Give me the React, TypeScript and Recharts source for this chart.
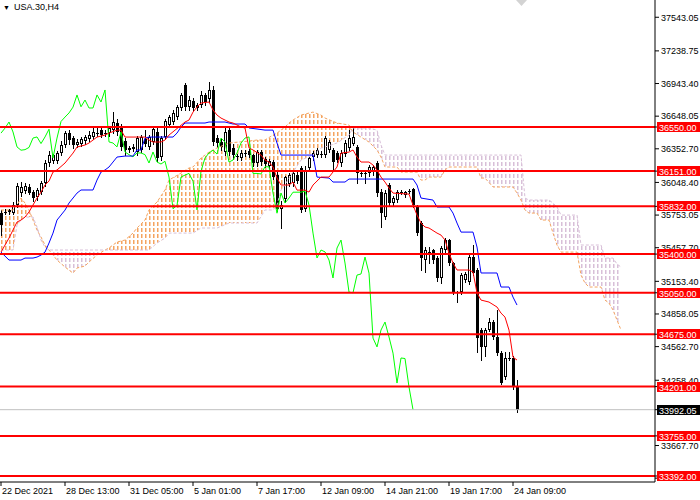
import React from "react";
import {
  Area,
  Bar,
  ComposedChart,
  Line,
  ReferenceDot,
  ReferenceLine,
  XAxis,
  YAxis,
} from "recharts";

const FONT = '"Liberation Sans", Arial, sans-serif';

// H4 candles, one entry per bar (bar 0 = 22 Dec 2021)
const opens = [
  35772, 35781, 35781, 35772, 35844, 35953, 35970, 36007, 35960, 35915,
  35960, 36043, 36224, 36240, 36240, 36315, 36387, 36495, 36450, 36390,
  36400, 36425, 36440, 36460, 36490, 36523, 36490, 36495, 36523, 36585,
  36540, 36420, 36360, 36350, 36324, 36342, 36440, 36370, 36415, 36505,
  36280, 36460, 36568, 36595, 36640, 36722, 36930, 36733, 36785, 36750,
  36749, 36840, 36803, 36885, 36450, 36415, 36324, 36523, 36360, 36290,
  36270, 36310, 36330, 36296, 36224, 36324, 36260, 36200, 36233, 36115,
  35810, 35900, 36034, 36040, 36120, 36180, 35810, 36180, 36280, 36300,
  36300, 36300, 36340, 36342, 36315, 36224, 36305, 36360, 36400, 36370,
  36135, 36130, 36130, 36140, 36224, 35960, 35735, 36025, 35862, 35889,
  35955, 35935, 35965, 35989, 35826, 35680, 35346, 35410, 35437, 35365,
  35184, 35437, 35527, 35319, 35056, 35056, 35170, 35147, 35373, 35256,
  34713, 34560, 34713, 34785, 34650, 34504, 34288, 34460, 34460, 34197,
];
const highs = [
  35799, 35810, 35810, 35870, 36043, 36050, 36040, 36030, 35980, 36000,
  36060, 36250, 36330, 36310, 36330, 36420, 36510, 36520, 36470, 36440,
  36460, 36480, 36510, 36540, 36560, 36540, 36520, 36560, 36685, 36620,
  36580, 36450, 36380, 36400, 36470, 36480, 36520, 36480, 36560, 36540,
  36470, 36620, 36660, 36700, 36750, 36857, 36948, 36830, 36810, 36770,
  36880, 36860, 36957, 36920, 36480, 36440, 36540, 36560, 36400, 36310,
  36340, 36340, 36350, 36310, 36340, 36340, 36280, 36260, 36250, 36140,
  35880, 36110, 36130, 36150, 36140, 36200, 36200, 36290, 36330, 36360,
  36330, 36470, 36430, 36360, 36330, 36340, 36432, 36523, 36541, 36390,
  36150, 36145, 36210, 36210, 36240, 35990, 35980, 36040, 35930, 35980,
  35980, 35975, 35990, 36000, 35844, 35700, 35460, 35460, 35450, 35380,
  35470, 35546, 35540, 35330, 35070, 35230, 35240, 35390, 35482, 35270,
  34730, 34730, 34820, 34800, 34894, 34520, 34515, 34515, 34480, 34261,
];
const lows = [
  35573, 35760, 35760, 35760, 35826, 35930, 35950, 35940, 35880, 35890,
  35940, 36020, 36200, 36220, 36220, 36300, 36370, 36400, 36360, 36370,
  36380, 36400, 36420, 36440, 36470, 36460, 36470, 36470, 36500, 36480,
  36340, 36300, 36320, 36330, 36300, 36320, 36380, 36350, 36400, 36240,
  36250, 36440, 36550, 36580, 36620, 36700, 36700, 36700, 36700, 36700,
  36730, 36750, 36780, 36390, 36370, 36340, 36300, 36300, 36260, 36250,
  36250, 36290, 36280, 36200, 36200, 36210, 36190, 36180, 36080, 35790,
  35638, 35870, 36020, 36020, 36040, 35780, 35790, 36160, 36250, 36280,
  36280, 36280, 36320, 36160, 36230, 36200, 36290, 36340, 36390, 36043,
  36110, 36043, 36110, 36120, 35930, 35645, 35720, 35840, 35840, 35870,
  35940, 35920, 35950, 35830, 35570, 35256, 35240, 35320, 35320, 35160,
  35138, 35420, 35300, 35040, 34966, 35040, 35150, 35130, 35210, 34513,
  34442, 34480, 34700, 34630, 34490, 34220, 34270, 34440, 34180, 33970,
];
const closes = [
  35663, 35781, 35799, 35844, 36016, 36007, 36016, 35953, 35905, 35980,
  36043, 36224, 36296, 36296, 36315, 36387, 36495, 36432, 36387, 36415,
  36440, 36460, 36480, 36505, 36500, 36478, 36495, 36540, 36595, 36505,
  36370, 36340, 36345, 36365, 36450, 36460, 36400, 36460, 36530, 36270,
  36450, 36600, 36640, 36677, 36730, 36840, 36733, 36794, 36722, 36722,
  36840, 36776, 36885, 36415, 36405, 36370, 36505, 36324, 36300, 36280,
  36315, 36315, 36300, 36224, 36324, 36233, 36215, 36240, 36097, 35810,
  35840, 36097, 36115, 36130, 36060, 35800, 36150, 36270, 36315, 36340,
  36305, 36450, 36415, 36233, 36251, 36315, 36405, 36450, 36460, 36130,
  36130, 36125, 36190, 36190, 35953, 35770, 35953, 35862, 35907, 35960,
  35960, 35960, 35970, 35844, 35590, 35365, 35437, 35420, 35346, 35184,
  35455, 35527, 35319, 35056, 35050, 35210, 35220, 35373, 35228, 34640,
  34560, 34713, 34785, 34650, 34504, 34233, 34460, 34455, 34197, 33992.05,
];

// Ichimoku lines, read at their break points (bar index -> price)
const tenkanIdx = [
  0, 2, 3, 4, 5, 6, 7, 8, 9, 10, 11, 12, 13, 14, 16, 17, 18, 19, 21, 22, 23,
  24, 26, 27, 29, 30, 31, 36, 37, 38, 40, 41, 42, 46, 47, 48, 49, 50, 52, 53,
  54, 55, 57, 58, 60, 61, 62, 63, 65, 66, 67, 68, 69, 70, 72, 73, 74, 76, 77,
  78, 80, 82, 84, 85, 87, 88, 89, 90, 92, 93, 94, 95, 96, 97, 98, 102, 103,
  104, 105, 106, 107, 109, 110, 111, 112, 113, 114, 117, 118, 119, 120, 122,
  124, 125, 126, 127, 128, 129,
];
const tenkanVal = [
  35418, 35545, 35618, 35690, 35708, 35735, 35781, 35844, 35907, 35961, 36025,
  36061, 36142, 36161, 36224, 36269, 36314, 36369, 36387, 36405, 36432, 36459,
  36477, 36495, 36522, 36522, 36459, 36459, 36432, 36414, 36414, 36432, 36477,
  36595, 36613, 36685, 36731, 36767, 36776, 36704, 36658, 36631, 36595, 36586,
  36550, 36541, 36360, 36342, 36296, 36251, 36233, 36188, 36088, 36025, 36025,
  36052, 35979, 35979, 35961, 36025, 36097, 36097, 36188, 36314, 36323, 36342,
  36278, 36233, 36233, 36206, 36161, 36097, 36052, 35998, 35952, 35943, 35844,
  35753, 35681, 35645, 35636, 35590, 35572, 35527, 35409, 35319, 35256, 35256,
  35238, 35048, 34984, 34966, 34921, 34866, 34830, 34712, 34468, 34441,
];
const kijunIdx = [
  0, 2, 5, 6, 8, 9, 10, 11, 12, 13, 14, 16, 17, 19, 20, 23, 24, 25, 26, 27,
  28, 29, 31, 33, 34, 35, 36, 37, 43, 44, 45, 46, 51, 52, 56, 58, 61, 62, 64,
  66, 68, 69, 70, 78, 79, 82, 83, 86, 87, 103, 104, 105, 108, 109, 112, 113,
  114, 115, 118, 119, 120, 124, 125, 127, 128, 129,
];
const kijunVal = [
  35418, 35346, 35346, 35364, 35364, 35373, 35391, 35418, 35500, 35590, 35708,
  35798, 35862, 35952, 35980, 35980, 36070, 36142, 36161, 36188, 36233, 36278,
  36287, 36287, 36342, 36342, 36450, 36459, 36459, 36495, 36550, 36586, 36586,
  36595, 36595, 36577, 36577, 36541, 36532, 36522, 36522, 36405, 36296, 36296,
  36097, 36088, 36052, 36052, 36079, 36079, 36025, 35907, 35889, 35826, 35826,
  35771, 35681, 35599, 35599, 35464, 35229, 35229, 35102, 35102, 35011, 34939,
];
const cloudIdx = [
  0, 3, 4, 5, 6, 7, 8, 9, 10, 11, 12, 14, 16, 18, 19, 21, 22, 24, 26, 27, 29,
  31, 33, 34, 36, 37, 39, 41, 42, 45, 47, 48, 50, 52, 54, 57, 62, 64, 66, 68,
  69, 70, 71, 72, 73, 75, 78, 80, 81, 84, 87, 88, 90, 92, 94, 95, 96, 99, 100,
  104, 105, 106, 107, 110, 111, 112, 119, 120, 121, 123, 128, 129, 130, 131,
  132, 134, 135, 137, 138, 139, 140, 144, 145, 146, 147, 150, 151, 152, 153,
  154, 155,
];
const spanA = [
  35799, 35799, 35844, 35907, 35862, 35799, 35708, 35618, 35554, 35482, 35437,
  35346, 35283, 35228, 35274, 35292, 35328, 35392, 35437, 35455, 35509, 35527,
  35590, 35636, 35708, 35799, 35871, 35980, 36070, 36133, 36179, 36188, 36269,
  36323, 36360, 36405, 36423, 36432, 36432, 36477, 36495, 36522, 36550, 36586,
  36613, 36658, 36685, 36658, 36631, 36586, 36568, 36504, 36459, 36414, 36342,
  36278, 36188, 36188, 36142, 36142, 36070, 36070, 36097, 36097, 36161, 36188,
  36188, 36088, 36088, 36007, 36007, 35952, 35889, 35799, 35771, 35771, 35708,
  35708, 35590, 35482, 35418, 35418, 35210, 35138, 35102, 35102, 34984, 34957,
  34894, 34803, 34713,
];
const spanB = [
  35437, 35437, 35663, 35708, 35735, 35735, 35735, 35645, 35527, 35464, 35437,
  35437, 35437, 35437, 35437, 35437, 35437, 35437, 35437, 35437, 35437, 35437,
  35437, 35437, 35437, 35437, 35500, 35545, 35590, 35590, 35590, 35590, 35636,
  35636, 35636, 35681, 35681, 35681, 35799, 35799, 35844, 35980, 36025, 36088,
  36142, 36251, 36296, 36360, 36369, 36405, 36477, 36541, 36541, 36541, 36522,
  36387, 36296, 36296, 36296, 36296, 36296, 36296, 36296, 36296, 36296, 36296,
  36296, 36296, 36296, 36296, 36296, 36296, 36296, 35907, 35889, 35889, 35889,
  35889, 35862, 35826, 35753, 35753, 35482, 35482, 35482, 35482, 35364, 35364,
  35364, 35310, 35283,
];
const CHIKOU_SHIFT = 26; // lagging span = close plotted 26 bars back

const timeTicks = [0, 16, 32, 48, 64, 80, 96, 112, 128];
const timeLabels = [
  "22 Dec 2021",
  "28 Dec 13:00",
  "31 Dec 05:00",
  "5 Jan 01:00",
  "7 Jan 17:00",
  "12 Jan 09:00",
  "14 Jan 21:00",
  "19 Jan 17:00",
  "24 Jan 09:00",
];
const priceTicks = [
  37543.05, 37238.75, 36943.4, 36648.05, 36352.7, 36048.4, 35753.05, 35457.7,
  35153.4, 34858.05, 34562.7, 34258.4, 33667.7, 33372.35,
];
const levels = [36550, 36151, 35832, 35400, 35050, 34675, 34201, 33755, 33392];
const lastPrice = 33992.05;

const SLOTS = 164;
const Y_MIN = 33337.7;
const Y_MAX = 37699.2;

type Row = {
  idx: number;
  open?: number;
  high?: number;
  low?: number;
  close?: number;
  tenkan?: number;
  kijun?: number;
  chikou?: number;
  spanA?: number;
  spanB?: number;
  bull?: [number, number];
  bear?: [number, number];
};

const rows: Row[] = Array.from({ length: SLOTS }, (_, i) => ({ idx: i }));
opens.forEach((o, i) => {
  rows[i].open = o;
  rows[i].high = highs[i];
  rows[i].low = lows[i];
  rows[i].close = closes[i];
});
closes.forEach((c, i) => {
  if (i >= CHIKOU_SHIFT) rows[i - CHIKOU_SHIFT].chikou = c;
});
tenkanIdx.forEach((x, k) => (rows[x].tenkan = tenkanVal[k]));
kijunIdx.forEach((x, k) => (rows[x].kijun = kijunVal[k]));
cloudIdx.forEach((x, k) => {
  const a = spanA[k];
  const b = spanB[k];
  const top = Math.max(a, b);
  rows[x].spanA = a;
  rows[x].spanB = b;
  rows[x].bull = [b, top];
  rows[x].bear = [a, top];
});

function Candle(props: any) {
  const { x, y, width, height, payload } = props;
  if (!payload || payload.open == null) return null;
  const { open, high, low, close } = payload as Required<Row>;
  const top = Math.min(y, y + height);
  const span = Math.abs(height);
  const toY = (v: number) => top + ((high - v) / (high - low || 1)) * span;
  const cx = Math.floor(x + width / 2) + 0.5;
  const yH = Math.round(toY(high));
  const yL = Math.round(toY(low));
  const bTop = Math.round(toY(Math.max(open, close)));
  const bBot = Math.round(toY(Math.min(open, close)));
  let body;
  if (bBot - bTop < 2) {
    body = (
      <line x1={cx - 1.5} x2={cx + 1.5} y1={bTop + 0.5} y2={bTop + 0.5} stroke="#000" />
    );
  } else if (close >= open) {
    body = (
      <rect x={cx - 1} y={bTop + 0.5} width={2} height={bBot - bTop - 1} fill="#fff" stroke="#000" />
    );
  } else {
    body = <rect x={cx - 1.5} y={bTop} width={3} height={bBot - bTop} fill="#000" />;
  }
  return (
    <g>
      <line x1={cx} x2={cx} y1={yH} y2={yL + 1} stroke="#000" />
      {body}
    </g>
  );
}

function TimeTick(props: any) {
  const { x, y, payload } = props;
  const k = timeTicks.indexOf(payload.value);
  return (
    <text x={x + 1} y={y + 8} fontSize={9} fill="#000" fontFamily={FONT} textAnchor="start">
      {timeLabels[k]}
    </text>
  );
}

// right-hand scale: plain price labels first, then the level boxes so they sit on top
const boxValues = [...levels, lastPrice];

function PriceTick(props: any) {
  const { x, y, payload } = props;
  const v = payload.value as number;
  if (!boxValues.includes(v)) {
    return (
      <text x={x} y={y + 3.3} fontSize={9} fill="#000" fontFamily={FONT}>
        {v.toFixed(2)}
      </text>
    );
  }
  const bg = v === lastPrice ? "#000" : "#FF0000";
  const left = x - 4;
  const cy = Math.round(y);
  return (
    <g>
      <rect x={left} y={cy - 5} width={44} height={10} fill={bg} />
      <text x={left + 2} y={cy + 3.5} fontSize={9} fill="#fff" fontFamily={FONT}>
        {v.toFixed(2)}
      </text>
    </g>
  );
}

export default function App() {
  return (
    <div style={{ position: "absolute", left: 0, top: 0, width: 700, height: 500, background: "#fff" }}>
      <ComposedChart
        width={700}
        height={500}
        data={rows}
        margin={{ top: 0, right: 0, left: -1, bottom: 0 }}
        barSize={3}
        style={{ fontFamily: FONT }}
      >
        <defs>
          <pattern id="hatchBull" patternUnits="userSpaceOnUse" x={0} y={0} width={4} height={6}>
            <rect x={1} y={0} width={1.5} height={4} fill="#F4A460" />
          </pattern>
          <pattern id="hatchBear" patternUnits="userSpaceOnUse" x={0} y={0} width={4} height={6}>
            <rect x={1} y={0} width={1.5} height={4} fill="#D8BFD8" />
          </pattern>
        </defs>
        <XAxis
          dataKey="idx"
          type="category"
          ticks={timeTicks}
          interval={0}
          height={18}
          tickSize={4}
          tickMargin={0}
          stroke="#000"
          tick={<TimeTick />}
        />
        <YAxis
          orientation="right"
          type="number"
          domain={[Y_MIN, Y_MAX]}
          allowDataOverflow
          ticks={[...priceTicks, ...boxValues]}
          interval={0}
          width={45}
          tickSize={4}
          tickMargin={2}
          stroke="#000"
          tick={<PriceTick />}
        />
        <Area
          dataKey="bull"
          stroke="none"
          fill="url(#hatchBull)"
          fillOpacity={1}
          connectNulls
          dot={false}
          activeDot={false}
          isAnimationActive={false}
        />
        <Area
          dataKey="bear"
          stroke="none"
          fill="url(#hatchBear)"
          fillOpacity={1}
          connectNulls
          dot={false}
          activeDot={false}
          isAnimationActive={false}
        />
        <Line dataKey="spanA" stroke="#F4A460" strokeDasharray="3 2" dot={false} activeDot={false} connectNulls isAnimationActive={false} />
        <Line dataKey="spanB" stroke="#D8BFD8" strokeDasharray="3 2" dot={false} activeDot={false} connectNulls isAnimationActive={false} />
        <Bar
          dataKey={(d: Row) => (d.open == null ? null : [d.low, d.high])}
          shape={<Candle />}
          isAnimationActive={false}
        />
        <Line dataKey="chikou" stroke="#00FF00" dot={false} activeDot={false} connectNulls isAnimationActive={false} />
        <Line dataKey="kijun" stroke="#0000FF" dot={false} activeDot={false} connectNulls isAnimationActive={false} />
        <Line dataKey="tenkan" stroke="#FF0000" dot={false} activeDot={false} connectNulls isAnimationActive={false} />
        <ReferenceLine y={lastPrice} stroke="#C0C0C0" strokeWidth={1} />
        {levels.map((lv) => (
          <ReferenceLine key={lv} y={lv} stroke="#FF0000" strokeWidth={2} />
        ))}
        <ReferenceDot
          x={130}
          y={Y_MAX}
          ifOverflow="visible"
          shape={(p: any) => (
            <polygon
              points={`${p.cx - 5},${p.cy} ${p.cx + 6},${p.cy} ${p.cx + 0.5},${p.cy + 6}`}
              fill="#D3D3D3"
            />
          )}
        />
      </ComposedChart>
      <div
        style={{
          position: "absolute",
          left: 3,
          top: 1,
          fontFamily: FONT,
          fontSize: 9,
          lineHeight: "12px",
          color: "#000",
          whiteSpace: "nowrap",
        }}
      >
        <span style={{ fontSize: 7, marginRight: 4 }}>▼</span>USA.30,H4
      </div>
    </div>
  );
}
